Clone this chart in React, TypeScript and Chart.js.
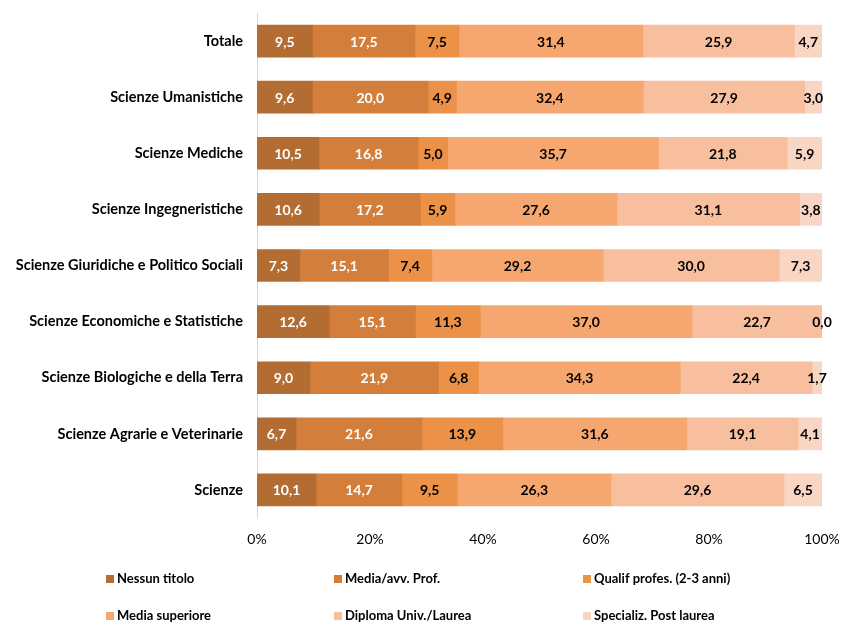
import React, { useEffect, useRef } from "react";
import { Chart, registerables } from "chart.js";

Chart.register(...registerables);

const categories = [
  "Totale",
  "Scienze Umanistiche",
  "Scienze Mediche",
  "Scienze Ingegneristiche",
  "Scienze Giuridiche e Politico Sociali",
  "Scienze Economiche e Statistiche",
  "Scienze Biologiche e della Terra",
  "Scienze Agrarie e Veterinarie",
  "Scienze",
];

const seriesNames = [
  "Nessun titolo",
  "Media/avv. Prof.",
  "Qualif profes. (2-3 anni)",
  "Media superiore",
  "Diploma Univ./Laurea",
  "Specializ. Post laurea",
];

const nessunTitolo = [9.5, 9.6, 10.5, 10.6, 7.3, 12.6, 9.0, 6.7, 10.1];
const mediaAvv = [17.5, 20.0, 16.8, 17.2, 15.1, 15.1, 21.9, 21.6, 14.7];
const qualifProfes = [7.5, 4.9, 5.0, 5.9, 7.4, 11.3, 6.8, 13.9, 9.5];
const mediaSuperiore = [31.4, 32.4, 35.7, 27.6, 29.2, 37.0, 34.3, 31.6, 26.3];
const diplomaLaurea = [25.9, 27.9, 21.8, 31.1, 30.0, 22.7, 22.4, 19.1, 29.6];
const specPostLaurea = [4.7, 3.0, 5.9, 3.8, 7.3, 0.0, 1.7, 4.1, 6.5];

const xTicks = ["0%", "20%", "40%", "60%", "80%", "100%"];

const colors = ["#B36D33", "#D37F3B", "#EC9148", "#F6A76F", "#F8BF9E", "#F9D6C4"];
const labelColors = ["#ffffff", "#ffffff", "#000000", "#000000", "#000000", "#000000"];

const FONT = "Lato, 'Noto Sans', sans-serif";

export default function App() {
  const ref = useRef<HTMLCanvasElement | null>(null);

  useEffect(() => {
    if (!ref.current) return;
    const raw = [nessunTitolo, mediaAvv, qualifProfes, mediaSuperiore, diplomaLaurea, specPostLaurea];
    const totals = categories.map((_, i) => raw.reduce((s, arr) => s + arr[i], 0));
    const datasets = raw.map((arr, k) => ({
      label: seriesNames[k],
      data: arr.map((v, i) => (v / totals[i]) * 100),
      rawValues: arr,
      backgroundColor: colors[k],
      borderWidth: 0,
      barThickness: 32,
    }));

    const labelPlugin = {
      id: "barLabels",
      afterDatasetsDraw(chart: any) {
        const ctx = chart.ctx;
        ctx.save();
        ctx.font = `bold 14px ${FONT}`;
        ctx.textAlign = "center";
        ctx.textBaseline = "middle";
        chart.data.datasets.forEach((ds: any, k: number) => {
          const meta = chart.getDatasetMeta(k);
          meta.data.forEach((bar: any, i: number) => {
            const v = ds.rawValues[i];
            const cx = (bar.x + bar.base) / 2;
            ctx.fillStyle = v === 0 ? "#000000" : labelColors[k];
            ctx.fillText(v.toFixed(1).replace(".", ","), cx, bar.y + 1);
          });
        });
        ctx.restore();
      },
    };

    const legendPos = [
      [106, 579],
      [334, 579],
      [583, 579],
      [106, 616],
      [334, 616],
      [583, 616],
    ];
    const legendPlugin = {
      id: "customLegend",
      afterDraw(chart: any) {
        const ctx = chart.ctx;
        ctx.save();
        ctx.font = `bold 13px ${FONT}`;
        ctx.textBaseline = "middle";
        ctx.textAlign = "left";
        chart.data.datasets.forEach((ds: any, k: number) => {
          const [x, y] = legendPos[k];
          ctx.fillStyle = colors[k];
          ctx.fillRect(x, y - 4, 8, 8);
          ctx.fillStyle = "#000000";
          ctx.fillText(ds.label, x + 11, y);
        });
        ctx.restore();
      },
    };

    const chart = new Chart(ref.current, {
      type: "bar",
      data: { labels: categories, datasets: datasets as any },
      options: {
        indexAxis: "y",
        animation: false,
        responsive: false,
        devicePixelRatio: 1,
        layout: { padding: { top: 13, right: 19, left: 0, bottom: 0 } },
        plugins: { legend: { display: false }, tooltip: { enabled: false } },
        scales: {
          x: {
            stacked: true,
            min: 0,
            max: 100,
            afterFit(scale: any) {
              scale.height = 106;
              scale.paddingLeft = 0;
              scale.paddingRight = 0;
              scale.paddingTop = 0;
              scale.paddingBottom = 0;
            },
            grid: { display: false, drawTicks: false },
            border: { display: false },
            ticks: {
              stepSize: 20,
              padding: 13,
              maxRotation: 0,
              color: "#000000",
              font: { family: FONT, size: 14 },
              callback: (_v: any, idx: number) => xTicks[idx],
            },
          },
          y: {
            stacked: true,
            afterFit(scale: any) {
              scale.width = 257;
              scale.paddingLeft = 0;
              scale.paddingRight = 0;
              scale.paddingTop = 0;
              scale.paddingBottom = 0;
            },
            grid: { display: true, drawOnChartArea: false, drawTicks: false },
            border: { display: true, color: "#D9D9D9", width: 1 },
            ticks: {
              padding: 14,
              color: "#000000",
              font: { family: FONT, size: 14.5, weight: "bold" },
            },
          },
        },
      },
      plugins: [labelPlugin, legendPlugin],
    });
    return () => chart.destroy();
  }, []);

  return (
    <div style={{ position: "fixed", left: 0, top: 0, width: 841, height: 624, background: "#fff" }}>
      <canvas ref={ref} width={841} height={624} style={{ width: 841, height: 624 }} />
    </div>
  );
}
